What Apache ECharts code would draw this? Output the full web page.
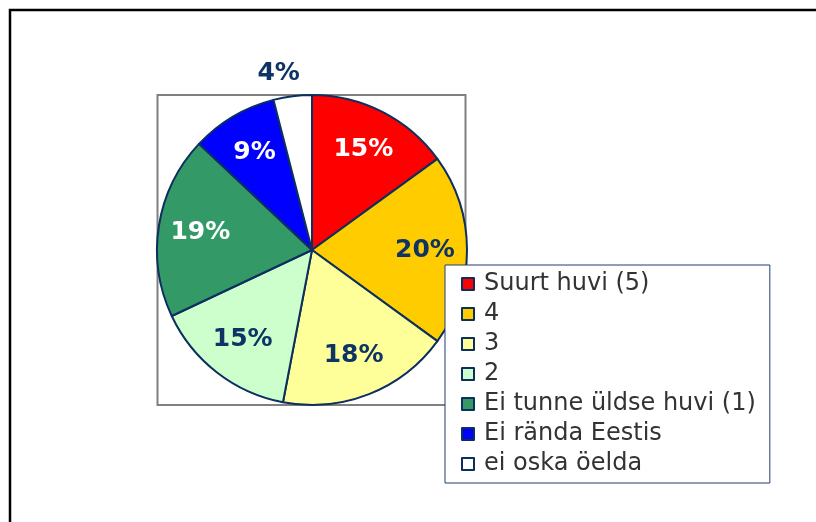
<!DOCTYPE html>
<html>
<head>
<meta charset="utf-8">
<script src="https://cdn.jsdelivr.net/npm/echarts@6/dist/echarts.min.js"></script>
<style>
html,body{margin:0;padding:0;background:#fff;}
#c{width:816px;height:522px;}
</style>
</head>
<body>
<div id="c"></div>
<script>
var categories = ['Suurt huvi (5)', '4', '3', '2', 'Ei tunne üldse huvi (1)', 'Ei rända Eestis', 'ei oska öelda'];
var values = [15, 20, 18, 15, 19, 9, 4];
var colors = ['#FF0000', '#FFCC00', '#FFFF99', '#CCFFCC', '#339966', '#0000FF', '#FFFFFF'];
var labelColors = ['#FFFFFF', '#0d3464', '#0d3464', '#0d3464', '#FFFFFF', '#FFFFFF', '#0d3464'];

var chart = echarts.init(document.getElementById('c'));
var center = [312, 250];
var R = 155;
var labelFont = {fontFamily: 'DejaVu Sans', fontWeight: 'bold', fontSize: 25};

var mainData = categories.map(function (n, i) {
  return {name: n, value: values[i], itemStyle: {color: colors[i]}};
});
var innerLabelData = categories.map(function (n, i) {
  return {name: n, value: values[i],
    label: {show: i !== 6, color: labelColors[i]}};
});
var outerLabelData = categories.map(function (n, i) {
  return {name: n, value: values[i],
    label: {show: i === 6, color: labelColors[i], padding: [0, 22, 0, 0]}};
});

chart.setOption({
  animation: false,
  graphic: [
    {type: 'polyline', shape: {points: [[10, 530], [10, 10], [820, 10]]},
     style: {stroke: '#000', lineWidth: 2.5, fill: null}, z: 0},
    {type: 'rect', shape: {x: 157.5, y: 95, width: 308, height: 310},
     style: {stroke: '#808080', lineWidth: 2, fill: null}, z: 0}
  ],
  legend: {
    orient: 'vertical',
    left: 445, top: 265,
    data: categories,
    icon: 'rect',
    itemWidth: 12, itemHeight: 12,
    itemGap: 6,
    padding: [7, 14, 7, 16],
    borderColor: '#1f3f6e', borderWidth: 1,
    backgroundColor: '#fff',
    itemStyle: {borderColor: '#0c2f5e', borderWidth: 2},
    textStyle: {fontFamily: 'DejaVu Sans', fontSize: 24, lineHeight: 24, color: '#333', padding: [0, 0, 0, 5]},
    z: 10
  },
  series: [
    {
      type: 'pie', center: center, radius: [0, R],
      startAngle: 90, clockwise: true,
      data: mainData,
      label: {show: false}, labelLine: {show: false},
      itemStyle: {borderColor: '#0c2f5e', borderWidth: 2},
      emphasis: {disabled: true}, silent: true, z: 2
    },
    {
      type: 'pie', center: center, radius: [0, 220],
      startAngle: 90, clockwise: true,
      data: innerLabelData,
      itemStyle: {color: 'rgba(0,0,0,0)', borderWidth: 0},
      label: Object.assign({position: 'inside', formatter: '{c}%'}, labelFont),
      labelLine: {show: false},
      emphasis: {disabled: true}, silent: true, z: 3
    },
    {
      type: 'pie', center: center, radius: [0, 350],
      startAngle: 90, clockwise: true,
      data: outerLabelData,
      itemStyle: {color: 'rgba(0,0,0,0)', borderWidth: 0},
      label: Object.assign({position: 'inside', formatter: '{c}%'}, labelFont),
      labelLine: {show: false},
      emphasis: {disabled: true}, silent: true, z: 3
    }
  ]
});
</script>
</body>
</html>
